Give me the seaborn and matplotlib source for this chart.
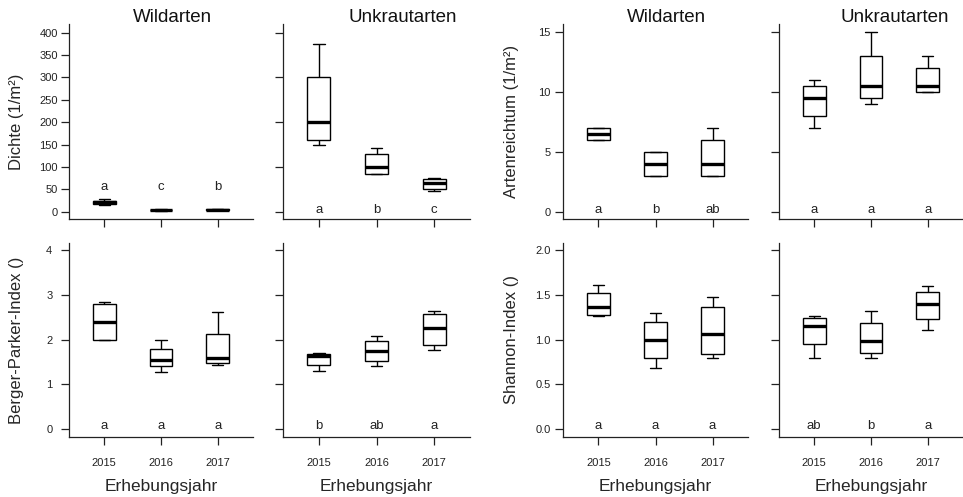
import numpy as np
import pandas as pd
import matplotlib.pyplot as plt
import seaborn as sb

# five-number summaries: min, q1, median, q3, max
years = ['2015', '2016', '2017']

dichte_wild = [[16, 18, 21, 24, 28], [2, 3, 4, 5, 6], [3, 4, 5, 6, 7]]
dichte_unkraut = [[148, 160, 200, 300, 375], [85, 85, 100, 130, 143], [47, 52, 64, 73, 76]]
arten_wild = [[6, 6, 6.5, 7, 7], [3, 3, 4, 5, 5], [3, 3, 4, 6, 7]]
arten_unkraut = [[7, 8, 9.5, 10.5, 11], [9, 9.5, 10.5, 13, 15], [10, 10, 10.5, 12, 13]]
bp_wild = [[1.98, 2.0, 2.385, 2.79, 2.84], [1.28, 1.40, 1.54, 1.79, 2.0], [1.43, 1.47, 1.59, 2.13, 2.61]]
bp_unkraut = [[1.31, 1.44, 1.63, 1.68, 1.71], [1.41, 1.52, 1.74, 1.96, 2.07], [1.77, 1.87, 2.26, 2.57, 2.64]]
shannon_wild = [[1.263, 1.274, 1.36, 1.515, 1.607], [0.685, 0.80, 1.0, 1.19, 1.30], [0.80, 0.837, 1.067, 1.367, 1.47]]
shannon_unkraut = [[0.80, 0.948, 1.156, 1.24, 1.267], [0.80, 0.848, 0.985, 1.185, 1.315], [1.11, 1.23, 1.40, 1.526, 1.596]]

# significance letters
let_dichte_wild = ['a', 'c', 'b']
let_dichte_unkraut = ['a', 'b', 'c']
let_arten_wild = ['a', 'b', 'ab']
let_arten_unkraut = ['a', 'a', 'a']
let_bp_wild = ['a', 'a', 'a']
let_bp_unkraut = ['b', 'ab', 'a']
let_shannon_wild = ['a', 'a', 'a']
let_shannon_unkraut = ['ab', 'b', 'a']

# y ticks and their labels
ticks_dichte = [0, 50, 100, 150, 200, 250, 300, 350, 400]
ticks_dichte2 = [0, 100, 200, 300, 400]
ticks_arten = [0, 5, 10, 15]
ticks_bp = [0, 1, 2, 3, 4]
ticks_shannon = [0, 0.5, 1, 1.5, 2]
lab_dichte = ['0', '50', '100', '150', '200', '250', '300', '350', '400']
lab_arten = ['0', '5', '10', '15']
lab_bp = ['0', '1', '2', '3', '4']
lab_shannon = ['0.0', '0.5', '1.0', '1.5', '2.0']

sb.set_style('ticks')
plt.rcParams['font.family'] = ['Liberation Sans', 'DejaVu Sans']

W, H = 963, 497
fig = plt.figure(figsize=(W / 100, H / 100), dpi=100)

col_x = [69, 283, 563, 779]
col_w = [184, 187, 185, 184]
row_y = [(24, 219), (243, 437)]

# (row, col, data, letters, letter_y, ylim, yticks, yticklabels, ylabel, ytick pad)
panels = [
    (0, 0, dichte_wild, let_dichte_wild, 48, (-16, 419), ticks_dichte, lab_dichte, 'Dichte (1/m²)', 2),
    (0, 1, dichte_unkraut, let_dichte_unkraut, -3, (-16, 419), ticks_dichte2, None, None, 2),
    (0, 2, arten_wild, let_arten_wild, -0.1, (-0.6, 15.7), ticks_arten, lab_arten, 'Artenreichtum (1/m²)', 3),
    (0, 3, arten_unkraut, let_arten_unkraut, -0.1, (-0.6, 15.7), ticks_arten, None, None, 2),
    (1, 0, bp_wild, let_bp_wild, 0, (-0.17, 4.15), ticks_bp, lab_bp, 'Berger-Parker-Index ()', 6),
    (1, 1, bp_unkraut, let_bp_unkraut, 0, (-0.17, 4.15), ticks_bp, None, None, 2),
    (1, 2, shannon_wild, let_shannon_wild, 0, (-0.085, 2.075), ticks_shannon, lab_shannon, 'Shannon-Index ()', 3),
    (1, 3, shannon_unkraut, let_shannon_unkraut, 0, (-0.085, 2.075), ticks_shannon, None, None, 2),
]

for row, col, vals, letters, ly, ylim, yticks, ylabs, ylabel, pad in panels:
    yt, yb = row_y[row]
    ax = fig.add_axes([col_x[col] / W, 1 - yb / H, col_w[col] / W, (yb - yt) / H])
    df = pd.DataFrame({'Jahr': np.repeat(years, 5), 'Wert': np.concatenate(vals)})
    sb.boxplot(data=df, x='Jahr', y='Wert', ax=ax, width=0.4, color='white',
               linecolor='black', linewidth=1, whis=(0, 100), saturation=1,
               medianprops=dict(linewidth=2.4, color='black'))
    for i, l in enumerate(letters):
        ax.text(i, ly, l, ha='center', va='baseline', fontsize=9.5, color='#222')
    ax.set_xlim(-0.62, 2.62)
    ax.set_ylim(*ylim)
    ax.set_yticks(yticks)
    if ylabel:
        ax.set_yticklabels(ylabs)
        ax.set_ylabel(ylabel, fontsize=12)
        ax.yaxis.label.set_va('center')
        ax.yaxis.set_label_coords(-52 / col_w[col], 0.5)
    else:
        ax.set_yticklabels([])
        ax.set_ylabel('')
    if row == 1:
        ax.set_xlabel('Erhebungsjahr', fontsize=12.5, labelpad=8)
    else:
        ax.set_xticklabels([])
        ax.set_xlabel('')
    for s in ['top', 'right']:
        ax.spines[s].set_visible(False)
    for s in ['left', 'bottom']:
        ax.spines[s].set_linewidth(0.9)
        ax.spines[s].set_color('#222')
    ax.tick_params(axis='y', direction='out', length=6, width=0.9, pad=pad, labelsize=8, colors='#222')
    ax.tick_params(axis='x', direction='out', length=6, width=0.9, pad=9, labelsize=8, colors='#222')

for cx, t in [(172, 'Wildarten'), (403, 'Unkrautarten'), (666, 'Wildarten'), (895, 'Unkrautarten')]:
    fig.text(cx / W, 1 - 18 / H, t, ha='center', va='center', fontsize=13.5, color='#111')

fig.savefig('out.png', dpi=100)
